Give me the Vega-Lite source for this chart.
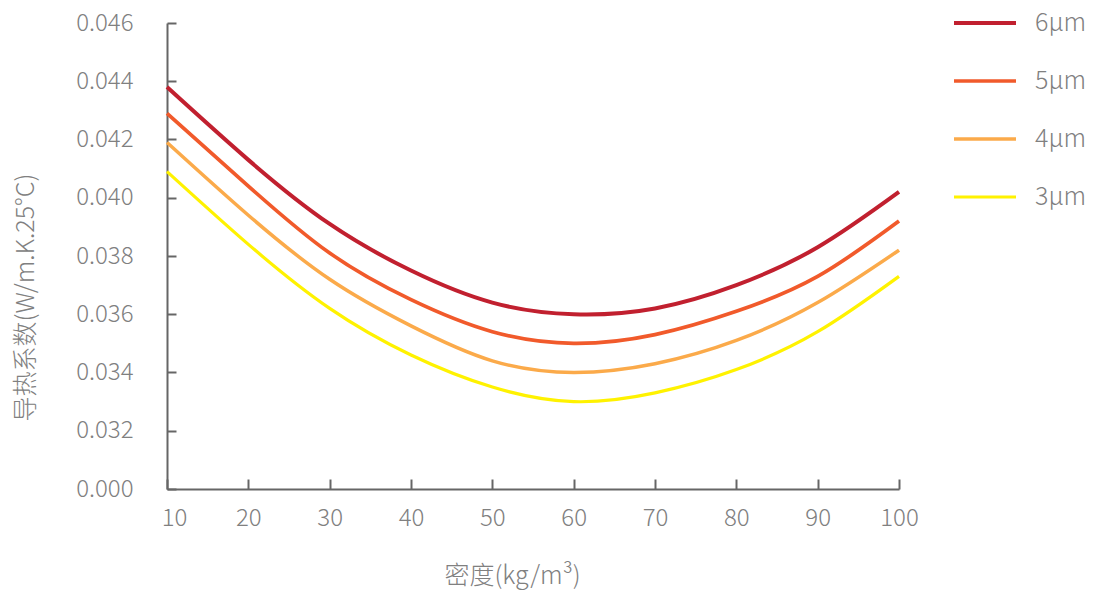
{
  "$schema": "https://vega.github.io/schema/vega-lite/v6.json",
  "width": 732,
  "height": 466,
  "autosize": {"type": "none"},
  "padding": {"left": 167, "top": 23, "right": 195, "bottom": 101},
  "background": "white",
  "config": {"view": {"stroke": null}, "font": "Noto Sans CJK SC"},
  "data": {"values": [
    {"density": 10, "fiber": "6µm", "k": 0.0438},
    {"density": 20, "fiber": "6µm", "k": 0.0413},
    {"density": 30, "fiber": "6µm", "k": 0.0391},
    {"density": 40, "fiber": "6µm", "k": 0.0375},
    {"density": 50, "fiber": "6µm", "k": 0.0364},
    {"density": 60, "fiber": "6µm", "k": 0.0360},
    {"density": 70, "fiber": "6µm", "k": 0.0362},
    {"density": 80, "fiber": "6µm", "k": 0.0370},
    {"density": 90, "fiber": "6µm", "k": 0.0383},
    {"density": 100, "fiber": "6µm", "k": 0.0402},
    {"density": 10, "fiber": "5µm", "k": 0.0429},
    {"density": 20, "fiber": "5µm", "k": 0.0404},
    {"density": 30, "fiber": "5µm", "k": 0.0381},
    {"density": 40, "fiber": "5µm", "k": 0.0365},
    {"density": 50, "fiber": "5µm", "k": 0.0354},
    {"density": 60, "fiber": "5µm", "k": 0.0350},
    {"density": 70, "fiber": "5µm", "k": 0.0353},
    {"density": 80, "fiber": "5µm", "k": 0.0361},
    {"density": 90, "fiber": "5µm", "k": 0.0373},
    {"density": 100, "fiber": "5µm", "k": 0.0392},
    {"density": 10, "fiber": "4µm", "k": 0.0419},
    {"density": 20, "fiber": "4µm", "k": 0.0394},
    {"density": 30, "fiber": "4µm", "k": 0.0372},
    {"density": 40, "fiber": "4µm", "k": 0.0356},
    {"density": 50, "fiber": "4µm", "k": 0.0344},
    {"density": 60, "fiber": "4µm", "k": 0.0340},
    {"density": 70, "fiber": "4µm", "k": 0.0343},
    {"density": 80, "fiber": "4µm", "k": 0.0351},
    {"density": 90, "fiber": "4µm", "k": 0.0364},
    {"density": 100, "fiber": "4µm", "k": 0.0382},
    {"density": 10, "fiber": "3µm", "k": 0.0409},
    {"density": 20, "fiber": "3µm", "k": 0.0384},
    {"density": 30, "fiber": "3µm", "k": 0.0362},
    {"density": 40, "fiber": "3µm", "k": 0.0346},
    {"density": 50, "fiber": "3µm", "k": 0.0335},
    {"density": 60, "fiber": "3µm", "k": 0.0330},
    {"density": 70, "fiber": "3µm", "k": 0.0333},
    {"density": 80, "fiber": "3µm", "k": 0.0341},
    {"density": 90, "fiber": "3µm", "k": 0.0354},
    {"density": 100, "fiber": "3µm", "k": 0.0373}
  ]},
  "mark": {"type": "line", "interpolate": "natural"},
  "encoding": {
    "x": {
      "field": "density", "type": "quantitative",
      "scale": {"domain": [10, 100], "nice": false, "zero": false},
      "axis": {
        "values": [10, 20, 30, 40, 50, 60, 70, 80, 90, 100],
        "grid": false,
        "title": "密度(kg/m³)",
        "domainColor": "#666666", "domainWidth": 2,
        "tickColor": "#666666", "tickWidth": 2, "tickSize": -10,
        "labelFlush": false,
        "labelFontSize": 24, "labelFontWeight": 300, "labelColor": "#808080", "labelPadding": 27,
        "labelOffset": {"condition": {"test": "datum.value == 10", "value": 7}, "value": 0},
        "titleFontSize": 25, "titleColor": "#808080", "titleFontWeight": 300,
        "titleX": 345, "titleY": 86, "titleBaseline": "middle", "titleAlign": "center"
      }
    },
    "y": {
      "field": "k", "type": "quantitative",
      "scale": {"domain": [0.030, 0.046], "nice": false, "zero": false},
      "axis": {
        "values": [0.030, 0.032, 0.034, 0.036, 0.038, 0.040, 0.042, 0.044, 0.046],
        "labelExpr": "datum.value < 0.031 ? '0.000' : format(datum.value, '.3f')",
        "grid": false,
        "title": "导热系数(W/m.K.25°C)",
        "domainColor": "#666666", "domainWidth": 2,
        "tickColor": "#666666", "tickWidth": 2, "tickSize": -9,
        "labelFontSize": 24, "labelFontWeight": 300, "labelColor": "#808080", "labelPadding": 43,
        "titleFontSize": 25, "titleColor": "#808080", "titleFontWeight": 300,
        "titleX": -142, "titleY": 274, "titleAngle": 270, "titleBaseline": "middle", "titleAlign": "center"
      }
    },
    "color": {
      "field": "fiber", "type": "nominal",
      "scale": {"domain": ["6µm", "5µm", "4µm", "3µm"], "range": ["#c1202f", "#f15a2b", "#fbaa4a", "#fff200"]},
      "legend": {
        "orient": "none", "legendX": 785, "legendY": -33, "title": null,
        "symbolType": "stroke", "symbolSize": 3844,
        "labelFontSize": 25, "labelFontWeight": 300, "labelColor": "#808080", "labelOffset": 17, "rowPadding": 12
      }
    },
    "strokeWidth": {
      "field": "fiber", "type": "nominal",
      "scale": {"domain": ["6µm", "5µm", "4µm", "3µm"], "range": [4, 3.2, 2.5, 2]},
      "legend": {
        "orient": "none", "legendX": 785, "legendY": -33, "title": null,
        "symbolType": "stroke", "symbolSize": 3844,
        "labelFontSize": 25, "labelFontWeight": 300, "labelColor": "#808080", "labelOffset": 17, "rowPadding": 12
      }
    }
  }
}
